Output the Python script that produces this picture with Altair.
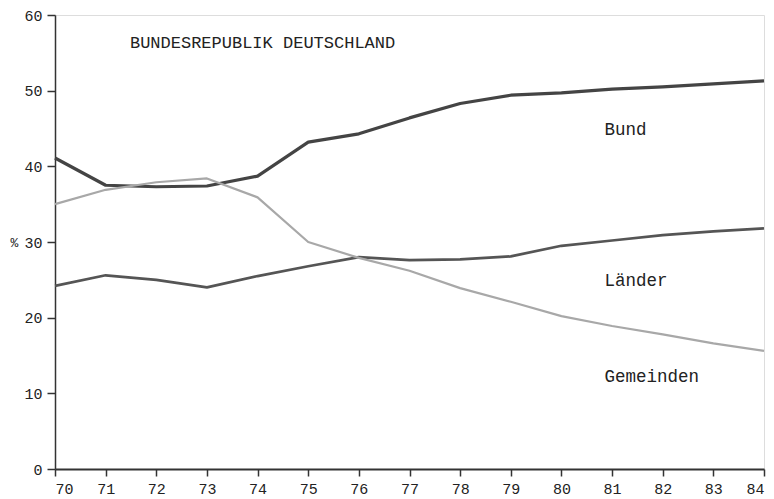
import altair as alt
import pandas as pd

years = list(range(70, 85))
bund = [41.1, 37.5, 37.3, 37.4, 38.7, 43.2, 44.3, 46.4, 48.3, 49.4, 49.7, 50.2, 50.5, 50.9, 51.3]
laender = [24.2, 25.6, 25.0, 24.0, 25.5, 26.8, 28.0, 27.6, 27.7, 28.1, 29.5, 30.2, 30.9, 31.4, 31.8]
gemeinden = [35.0, 36.9, 37.9, 38.4, 35.9, 30.0, 27.9, 26.2, 23.9, 22.1, 20.2, 18.9, 17.8, 16.6, 15.6]
series_names = ["Bund", "Länder", "Gemeinden"]
title_text = "BUNDESREPUBLIK DEUTSCHLAND"

rows = []
for name, vals in zip(series_names, [bund, laender, gemeinden]):
    for y, v in zip(years, vals):
        rows.append({"Jahr": y, "Anteil": v, "Ebene": name})
df = pd.DataFrame(rows)

FONT = "Liberation Mono"

x = alt.X("Jahr:Q", scale=alt.Scale(domain=[70, 84], nice=False, zero=False),
          axis=alt.Axis(values=years, title=None, grid=False, tickSize=7, tickColor="#333",
                        domainColor="#333", domainWidth=2, labelFont=FONT, labelFontSize=15,
                        labelColor="#222", labelPadding=5, tickWidth=1.5))
y = alt.Y("Anteil:Q", scale=alt.Scale(domain=[0, 60], nice=False),
          axis=alt.Axis(values=[0, 10, 20, 30, 40, 50, 60], title="%", titleAngle=0,
                        titleAlign="left", titleBaseline="middle",
                        titleX=-45, titleY=227, titleFont=FONT, titleFontSize=13,
                        titleFontWeight="normal", titleColor="#222",
                        grid=False, tickSize=8, tickColor="#333", domainColor="#333",
                        domainWidth=1.5, labelFont=FONT, labelFontSize=15, labelColor="#222",
                        labelPadding=5, tickWidth=1.5))

lines = alt.Chart(df).mark_line(strokeJoin="round").encode(
    x=x, y=y,
    color=alt.Color("Ebene:N", scale=alt.Scale(domain=series_names,
                                               range=["#444444", "#555555", "#a8a8a8"]),
                    legend=None),
    strokeWidth=alt.StrokeWidth("Ebene:N", scale=alt.Scale(domain=series_names, range=[3.2, 2.2, 3.2]),
                                legend=None),
)

lab_df = pd.DataFrame({
    "Jahr": [80.85, 80.85, 80.85],
    "Anteil": [44.8, 24.8, 12.2],
    "text": series_names,
})
labels = alt.Chart(lab_df).mark_text(font=FONT, fontSize=17.5, align="left", color="#222").encode(
    x="Jahr:Q", y="Anteil:Q", text="text:N")

title_df = pd.DataFrame({"Jahr": [71.48], "Anteil": [56.3], "text": [title_text]})
title = alt.Chart(title_df).mark_text(font=FONT, fontSize=17, align="left", color="#222").encode(
    x="Jahr:Q", y="Anteil:Q", text="text:N")

chart = (lines + labels + title).properties(
    width=709, height=454,
    autosize=alt.AutoSizeParams(type="none"),
    padding={"left": 47, "top": 7, "right": 2, "bottom": 30},
).configure_view(stroke=None).configure(background="white")

chart.save("out.html", embed_options={"renderer": "svg", "actions": False})
